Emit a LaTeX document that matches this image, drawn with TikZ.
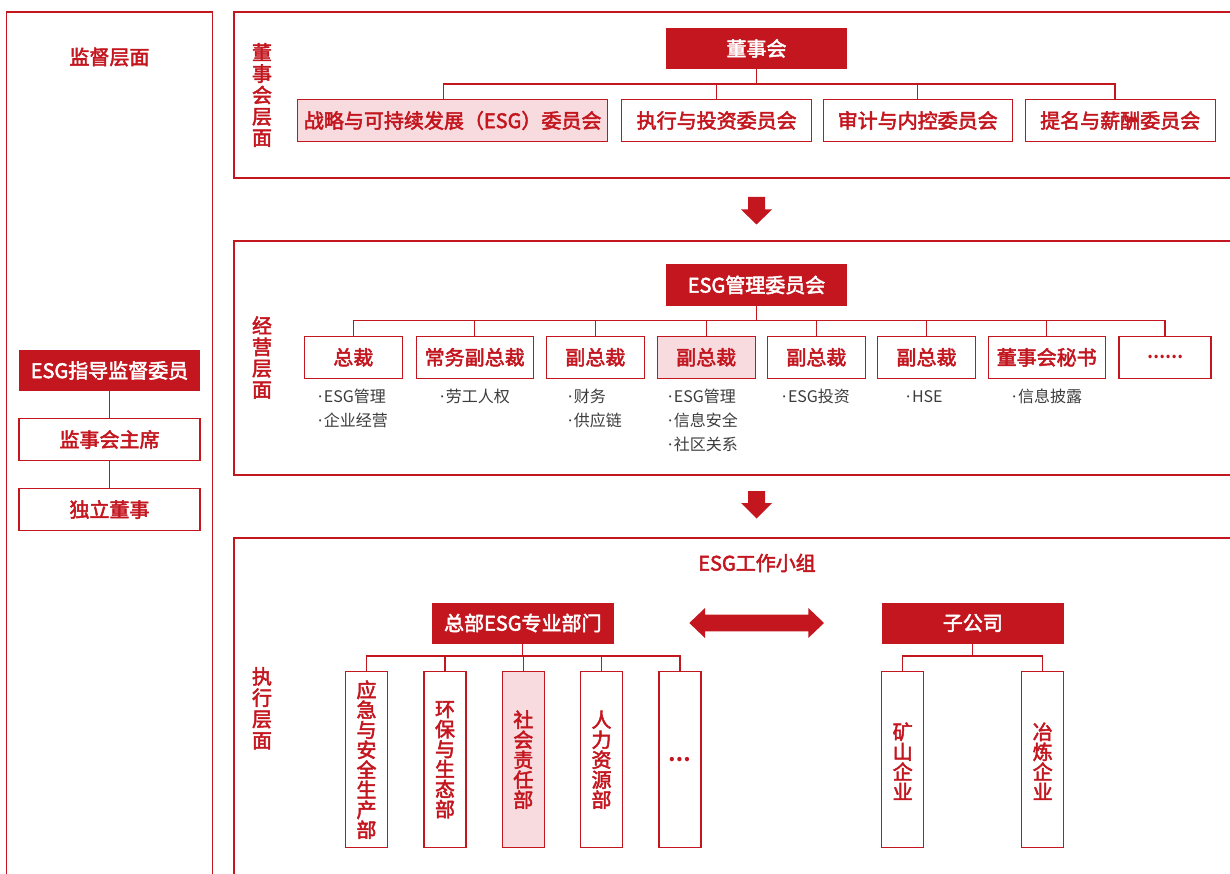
\documentclass[tikz,border=0pt]{standalone}
\usepackage{fontspec}
\setmainfont{Noto Sans CJK SC}
\newfontfamily\medfont{Noto Sans CJK SC}[FakeBold=2.5]
\newfontfamily\dotfont{Noto Sans}
\usetikzlibrary{calc}
\definecolor{esgred}{HTML}{C3161F}
\definecolor{esgpink}{HTML}{F7DBDF}
\definecolor{esggrey}{HTML}{3C3C3C}
\newcommand{\bdot}{{\dotfont\textperiodcentered}\hspace{1.5pt}}
\tikzset{
  panel/.style={draw=esgred, line width=1.3pt},
  link/.style={draw=esgred, line width=1.2pt},
  hdr/.style={fill=esgred, text=white, inner sep=0pt, minimum height=41,
    minimum width=181, font=\fontsize{20}{24}\selectfont\medfont},
  rbox/.style={draw=esgred, line width=1.2pt, fill=white, text=esgred, inner sep=0pt,
    minimum height=42, font=\fontsize{20}{24}\selectfont\medfont},
  pbox/.style={rbox, fill=esgpink},
  vbox/.style={rbox, minimum width=42, minimum height=176, align=center,
    font=\fontsize{20}{20}\selectfont\medfont},
  vlabel/.style={text=esgred, inner sep=0pt, align=center,
    font=\fontsize{20}{21.3}\selectfont\medfont},
  ttl/.style={text=esgred, inner sep=0pt, font=\fontsize{20}{24}\selectfont\medfont},
  bul/.style={text=esggrey, inner sep=0pt, anchor=base west,
    font=\fontsize{16}{20}\selectfont},
  bigarrow/.style={fill=esgred}
}
\begin{document}
\begin{tikzpicture}[x=1pt,y=-1pt]
\useasboundingbox (0,0) rectangle (1230,874);

% ---------- panels ----------
\draw[panel] (6.5,880) -- (6.5,12) -- (212.5,12) -- (212.5,880);
\draw[panel] (1240,12) -- (234,12) -- (234,178) -- (1240,178);
\draw[panel] (1240,241) -- (234,241) -- (234,475) -- (1240,475);
\draw[panel] (1240,538) -- (234,538) -- (234,880);

% ---------- supervision ----------
\node[ttl] (jdcm) at (109.5,57) {监督层面};
\node[hdr] (zdjd) at (109.5,370.5) {ESG指导监督委员};
\node[rbox, minimum width=181] (jshzx) at (109.5,439.5) {监事会主席};
\node[rbox, minimum width=181] (dlds) at (109.5,509.5) {独立董事};
\draw[link] (zdjd) -- (jshzx);
\draw[link] (jshzx) -- (dlds);

% ---------- board level ----------
\node[vlabel] (lab1) at (262,95) {董\\事\\会\\层\\面};
\node[hdr] (dsh) at (756.5,48.5) {董事会};
\node[pbox, minimum width=310] (c1) at (452.7,120.5) {战略与可持续发展（ESG）委员会};
\node[rbox, minimum width=190] (c2) at (716.7,120.5) {执行与投资委员会};
\node[rbox, minimum width=189] (c3) at (917.7,120.5) {审计与内控委员会};
\node[rbox, minimum width=190] (c4) at (1120.2,120.5) {提名与薪酬委员会};
\coordinate (bus1) at (756.5,84);
\draw[link] (dsh.south) -- (bus1);
\draw[link] ([xshift=-9.5pt]c1.north) |- (bus1) -| ([xshift=-5.2pt]c4.north);
\draw[link] (c2.north) -- (c2.north |- bus1);
\draw[link] (c3.north) -- (c3.north |- bus1);

% arrow 1
\fill[bigarrow] (748,197) -- (765,197) -- (765,209.5) -- (772,209.5) -- (756.5,224.5)
  -- (741,209.5) -- (748,209.5) -- cycle;

% ---------- management level ----------
\node[vlabel] (lab2) at (262,357.5) {经\\营\\层\\面};
\node[hdr] (esgm) at (756.5,285) {ESG管理委员会};
\node[rbox, minimum width=98]  (m1) at (353.3,357.3) {总裁};
\node[rbox, minimum width=117] (m2) at (474.7,357.3) {常务副总裁};
\node[rbox, minimum width=98]  (m3) at (595.3,357.3) {副总裁};
\node[pbox, minimum width=98]  (m4) at (706.2,357.3) {副总裁};
\node[rbox, minimum width=98]  (m5) at (816.3,357.3) {副总裁};
\node[rbox, minimum width=98]  (m6) at (926.5,357.3) {副总裁};
\node[rbox, minimum width=117] (m7) at (1046.7,357.3) {董事会秘书};
\node[rbox, minimum width=92, font=\fontsize{16}{20}\selectfont\bfseries] (m8) at (1165,357.3) {……};
\coordinate (bus2) at (756.5,320.5);
\draw[link] (esgm.south) -- (bus2);
\draw[link] (m1.north) |- (bus2) -| (m8.north);
\foreach \n in {m2,m3,m4,m5,m6,m7}
  \draw[link] (\n.north) -- (\n.north |- bus2);

% bullets
\node[bul] (t1a) at (318,402.5) {\bdot ESG管理};
\node[bul] (t1b) at (318,426.5) {\bdot 企业经营};
\node[bul] (t2a) at (440,402.5) {\bdot 劳工人权};
\node[bul] (t3a) at (568,402.5) {\bdot 财务};
\node[bul] (t3b) at (568,426.5) {\bdot 供应链};
\node[bul] (t4a) at (668,402.5) {\bdot ESG管理};
\node[bul] (t4b) at (668,426.5) {\bdot 信息安全};
\node[bul] (t4c) at (668,450.5) {\bdot 社区关系};
\node[bul] (t5a) at (782,402.5) {\bdot ESG投资};
\node[bul] (t6a) at (906,402.5) {\bdot HSE};
\node[bul] (t7a) at (1012,402.5) {\bdot 信息披露};

% arrow 2
\fill[bigarrow] (748,491) -- (765,491) -- (765,503) -- (772,503) -- (756.5,518.5)
  -- (741,503) -- (748,503) -- cycle;

% ---------- execution level ----------
\node[ttl] (wg) at (757,563) {ESG工作小组};
\node[vlabel] (lab3) at (262,708.3) {执\\行\\层\\面};
\node[hdr, minimum width=182] (hq) at (522.8,623) {总部ESG专业部门};
\node[hdr, minimum width=182] (sub) at (972.8,623) {子公司};

% double arrow
\fill[bigarrow] (689.3,623) -- (705,608) -- (705,614.7) -- (808.3,614.7) -- (808.3,608)
  -- (824,623) -- (808.3,638) -- (808.3,631.3) -- (705,631.3) -- (705,638) -- cycle;

\node[vbox] (d1) at (366.5,759.7) {应\\急\\与\\安\\全\\生\\产\\部};
\node[vbox] (d2) at (445,759.7) {环\\保\\与\\生\\态\\部};
\node[vbox, fill=esgpink] (d3) at (523.3,759.7) {社\\会\\责\\任\\部};
\node[vbox] (d4) at (601.5,759.7) {人\\力\\资\\源\\部};
\node[vbox, font=\fontsize{20}{20}\selectfont\bfseries] (d5) at (680,759.7) {…};
\coordinate (bus3) at (522.8,656);
\draw[link] (hq.south) -- (bus3);
\draw[link] (d1.north) |- (bus3) -| (d5.north);
\draw[link] (d2.north) -- (d2.north |- bus3);
\draw[link] (d3.north) -- (d3.north |- bus3);
\draw[link] (d4.north) -- (d4.north |- bus3);

\node[vbox] (s1) at (902.7,759.7) {\\矿\\山\\企\\业};
\node[vbox] (s2) at (1042.7,759.7) {\\冶\\炼\\企\\业};
\coordinate (bus4) at (972.8,656);
\draw[link] (sub.south) -- (bus4);
\draw[link] (s1.north) |- (bus4) -| (s2.north);
\end{tikzpicture}
\end{document}
